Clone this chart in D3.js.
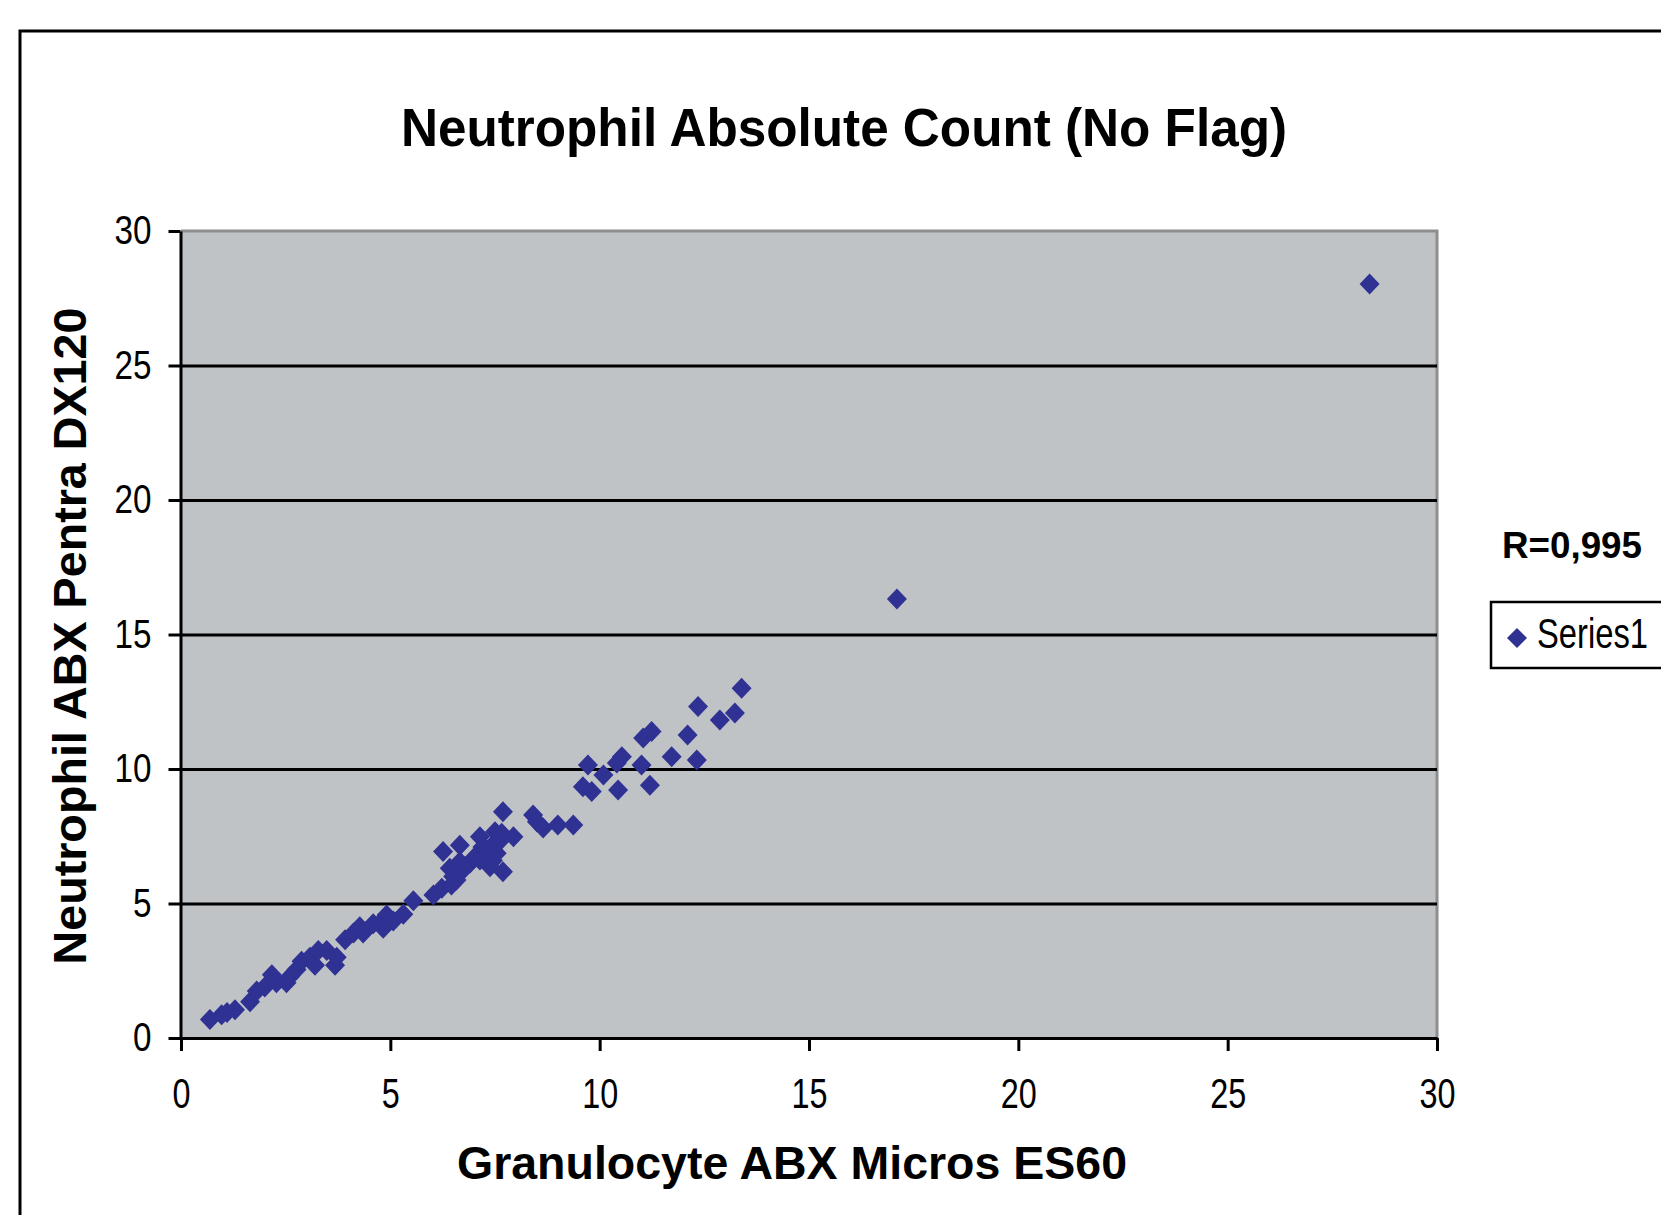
<!DOCTYPE html>
<html>
<head>
<meta charset="utf-8">
<script src="https://cdn.jsdelivr.net/npm/d3@7/dist/d3.min.js"></script>
<style>
  html, body { margin: 0; padding: 0; background: #fff; }
  svg { display: block; }
</style>
</head>
<body>
<svg id="chart" width="1661" height="1215"></svg>
<script>
// ---- Data ----
const chartTitle = "Neutrophil Absolute Count (No Flag)";
const xAxisTitle = "Granulocyte ABX Micros ES60";
const yAxisTitle = "Neutrophil ABX Pentra DX120";
const seriesName = "Series1";
const rLabel = "R=0,995";

const xTickValues = [0, 5, 10, 15, 20, 25, 30];
const yTickValues = [0, 5, 10, 15, 20, 25, 30];

// Granulocyte ABX Micros ES60 (x)
const granulocyte = [
  0.69, 0.97, 1.10, 1.29, 1.65, 1.81, 2.00, 2.17, 2.28, 2.52,
  2.60, 2.76, 2.88, 3.08, 3.20, 3.28, 3.48, 3.68, 3.72, 3.92,
  4.12, 4.27, 4.35, 4.59, 4.75, 4.83, 4.91, 5.07, 5.31, 5.55,
  6.03, 6.23, 6.26, 6.42, 6.46, 6.50, 6.58, 6.66, 6.66, 6.66,
  6.70, 6.78, 6.90, 7.00, 7.14, 7.14, 7.20, 7.25, 7.30, 7.38,
  7.40, 7.45, 7.50, 7.54, 7.60, 7.66, 7.69, 7.69, 7.94, 8.41,
  8.50, 8.65, 9.00, 9.37, 9.60, 9.81, 9.72, 10.09, 10.44, 10.41,
  10.53, 11.00, 11.04, 11.24, 11.20, 11.72, 12.10, 12.32, 12.35, 12.87,
  13.23, 13.39, 17.10, 28.39
];
// Neutrophil ABX Pentra DX120 (y)
const neutrophil = [
  0.69, 0.86, 0.95, 1.05, 1.35, 1.75, 1.90, 2.35, 2.05, 2.05,
  2.28, 2.55, 2.85, 3.00, 2.70, 3.25, 3.25, 2.70, 3.00, 3.65,
  3.90, 4.14, 3.90, 4.25, 4.27, 4.08, 4.57, 4.35, 4.60, 5.10,
  5.32, 5.57, 6.93, 6.31, 5.69, 6.00, 5.87, 7.17, 6.55, 6.12,
  6.30, 6.37, 6.50, 6.70, 7.48, 6.62, 7.10, 6.80, 6.99, 6.37,
  7.10, 6.60, 7.67, 6.87, 7.30, 7.61, 6.18, 8.41, 7.48, 8.29,
  8.04, 7.81, 7.92, 7.92, 9.34, 9.16, 10.15, 9.78, 9.22, 10.22,
  10.46, 10.15, 11.15, 11.39, 9.40, 10.46, 11.26, 10.33, 12.32, 11.82,
  12.08, 13.00, 16.32, 28.03
];

// ---- Drawing ----
const svg = d3.select("#chart");
const W = 1661, H = 1215;
const plot = { left: 181, right: 1437, top: 231, bottom: 1038 };
const markerColor = "#2f3193";
const plotFill = "#bfc3c6";

const x = d3.scaleLinear().domain([0, 30]).range([plot.left, plot.right]);
const y = d3.scaleLinear().domain([0, 30]).range([plot.bottom, plot.top]);

// outer chart frame (extends past the right & bottom edges)
svg.append("path")
  .attr("d", `M20,${H + 10} L20,31 L${W + 10},31`)
  .attr("fill", "none").attr("stroke", "#000").attr("stroke-width", 3);

// plot area
svg.append("rect")
  .attr("x", plot.left).attr("y", plot.top)
  .attr("width", plot.right - plot.left).attr("height", plot.bottom - plot.top)
  .attr("fill", plotFill);
// plot area top / right border (grey)
svg.append("path")
  .attr("d", `M${plot.left},${plot.top} L${plot.right},${plot.top} L${plot.right},${plot.bottom}`)
  .attr("fill", "none").attr("stroke", "#8e8e8e").attr("stroke-width", 3);

// horizontal gridlines
const grid = svg.append("g")
  .attr("transform", `translate(${plot.left},0)`)
  .call(d3.axisLeft(y)
    .tickValues(yTickValues.filter(v => v > 0 && v < 30))
    .tickSize(-(plot.right - plot.left))
    .tickFormat(""));
grid.select(".domain").remove();
grid.selectAll(".tick line").attr("stroke", "#000").attr("stroke-width", 3);

// narrow tick labels helper
function narrow(sel, perChar) {
  sel.each(function () {
    const t = d3.select(this);
    const n = t.text().length;
    t.attr("textLength", perChar * n).attr("lengthAdjust", "spacingAndGlyphs");
  });
}

// y axis
const yAxis = svg.append("g")
  .attr("transform", `translate(${plot.left - 0.5},0)`)
  .call(d3.axisLeft(y).tickValues(yTickValues).tickSize(12).tickSizeOuter(0).tickPadding(17));
yAxis.select(".domain").attr("stroke", "#000").attr("stroke-width", 3);
yAxis.selectAll(".tick line").attr("stroke", "#000").attr("stroke-width", 3);
yAxis.selectAll(".tick text")
  .attr("font-family", "'Liberation Sans', Arial, sans-serif")
  .attr("font-size", 40).attr("fill", "#000")
  .call(narrow, 18.5);

// x axis
const xAxis = svg.append("g")
  .attr("transform", `translate(0,${plot.bottom})`)
  .call(d3.axisBottom(x).tickValues(xTickValues).tickSize(13).tickSizeOuter(0));
xAxis.select(".domain").attr("stroke", "#000").attr("stroke-width", 3);
xAxis.selectAll(".tick line").attr("stroke", "#000").attr("stroke-width", 3);
xAxis.selectAll(".tick text")
  .attr("font-family", "'Liberation Sans', Arial, sans-serif")
  .attr("font-size", 42).attr("fill", "#000")
  .attr("y", 70).attr("dy", 0)
  .call(narrow, 18);

// markers
const diamond = "M0,-10.5 L10,0 L0,10.5 L-10,0 Z";
svg.append("g")
  .selectAll("path")
  .data(granulocyte.map((g, i) => ({ gx: g, ny: neutrophil[i] })))
  .join("path")
  .attr("d", diamond)
  .attr("transform", d => `translate(${x(d.gx)},${y(d.ny)})`)
  .attr("fill", markerColor);

// titles
svg.append("text")
  .attr("x", 844).attr("y", 146)
  .attr("text-anchor", "middle")
  .attr("font-family", "'Liberation Sans', Arial, sans-serif")
  .attr("font-weight", "bold").attr("font-size", 54)
  .attr("textLength", 886).attr("lengthAdjust", "spacingAndGlyphs")
  .text(chartTitle);

svg.append("text")
  .attr("x", 792).attr("y", 1179)
  .attr("text-anchor", "middle")
  .attr("font-family", "'Liberation Sans', Arial, sans-serif")
  .attr("font-weight", "bold").attr("font-size", 47)
  .attr("textLength", 670).attr("lengthAdjust", "spacingAndGlyphs")
  .text(xAxisTitle);

svg.append("text")
  .attr("transform", "translate(86,636) rotate(-90)")
  .attr("text-anchor", "middle")
  .attr("font-family", "'Liberation Sans', Arial, sans-serif")
  .attr("font-weight", "bold").attr("font-size", 47)
  .attr("textLength", 657).attr("lengthAdjust", "spacingAndGlyphs")
  .text(yAxisTitle);

// R label
svg.append("text")
  .attr("x", 1502).attr("y", 558)
  .attr("font-family", "'Liberation Sans', Arial, sans-serif")
  .attr("font-weight", "bold").attr("font-size", 36)
  .attr("textLength", 140).attr("lengthAdjust", "spacingAndGlyphs")
  .text(rLabel);

// legend
const legend = svg.append("g");
legend.append("rect")
  .attr("x", 1491).attr("y", 602)
  .attr("width", 200).attr("height", 66)
  .attr("fill", "#fff").attr("stroke", "#000").attr("stroke-width", 2.5);
legend.append("path")
  .attr("d", "M0,-10 L10,0 L0,10 L-10,0 Z")
  .attr("transform", "translate(1517,638)")
  .attr("fill", markerColor);
legend.append("text")
  .attr("x", 1537).attr("y", 648)
  .attr("font-family", "'Liberation Sans', Arial, sans-serif")
  .attr("font-size", 42)
  .attr("textLength", 111).attr("lengthAdjust", "spacingAndGlyphs")
  .text(seriesName);
</script>
</body>
</html>
